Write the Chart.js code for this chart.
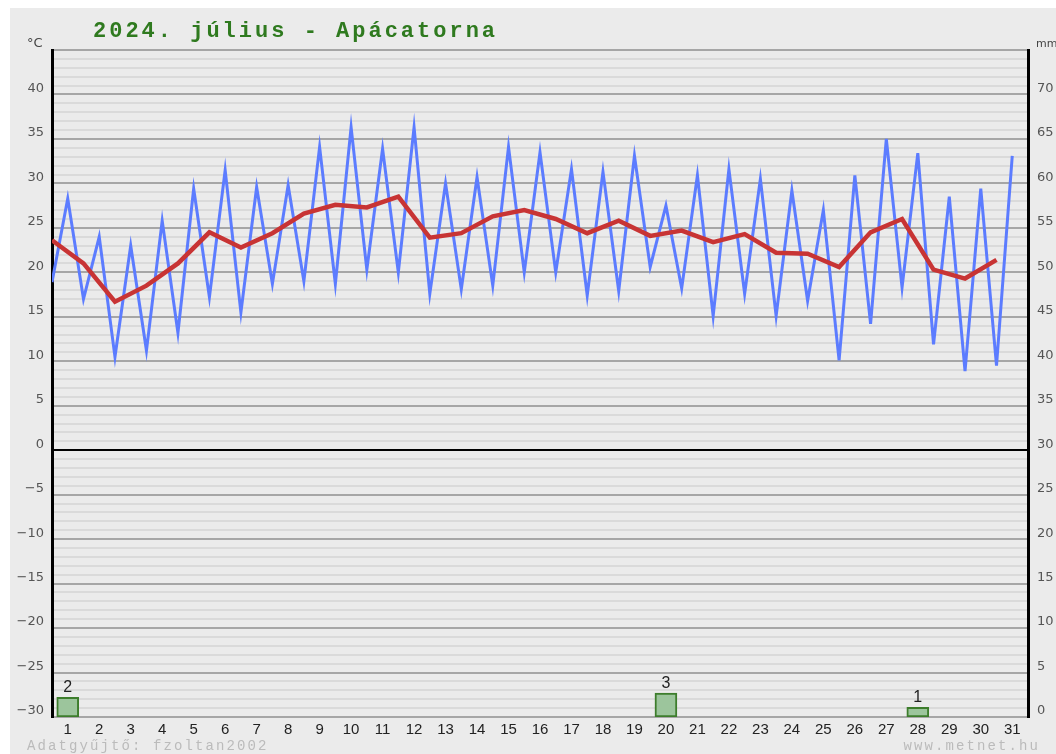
<!DOCTYPE html>
<html>
<head>
<meta charset="utf-8">
<script src="https://cdn.jsdelivr.net/npm/chart.js@4"></script>
<style>
    html, body { margin: 0; padding: 0; background: #fff; }
    #wrap { width: 1056px; height: 754px; }
</style>
</head>
<body>
<div id="wrap"><canvas id="chart1" width="1056" height="754"></canvas></div>
<script>
// days of the month
let days = [1, 2, 3, 4, 5, 6, 7, 8, 9, 10, 11, 12, 13, 14, 15, 16, 17, 18, 19, 20, 21, 22, 23, 24, 25, 26, 27, 28, 29, 30, 31];
// daily min / max / mean temperature (°C)
let tMin = [18.9, 17.0, 10.5, 11.2, 13.2, 17.2, 15.5, 18.7, 19.0, 18.7, 20.3, 20.0, 17.6, 18.1, 18.5, 20.0, 20.0, 17.4, 17.9, 20.6, 18.2, 15.1, 17.6, 15.1, 16.8, 10.1, 14.2, 18.3, 11.9, 8.9, 9.5];
let tMax = [28.3, 24.0, 23.0, 25.8, 29.4, 31.5, 29.6, 29.8, 34.1, 36.3, 33.9, 36.3, 30.0, 30.7, 34.1, 33.5, 31.6, 31.3, 33.1, 27.5, 30.9, 31.6, 30.5, 29.2, 27.0, 30.9, 35.0, 33.4, 28.5, 29.4, 33.1];
let tMean = [23.6, 21.0, 16.7, 18.5, 21.0, 24.5, 22.8, 24.4, 26.6, 27.6, 27.3, 28.5, 23.9, 24.4, 26.3, 27.0, 26.0, 24.4, 25.8, 24.1, 24.7, 23.4, 24.3, 22.2, 22.1, 20.6, 24.5, 26.0, 20.3, 19.3, 21.4];
// precipitation (mm)
let rainDays = [1, 20, 28];
let rainMm = [2.2, 2.7, 1.1];

// min at the start of the day, max at mid-day
let tempPoints = [];
days.forEach((d, i) => {
    tempPoints.push({ x: d - 0.5, y: tMin[i] });
    tempPoints.push({ x: d, y: tMax[i] });
});
let meanPoints = days.map((d, i) => ({ x: d - 0.5, y: tMean[i] }));
let rainPoints = rainDays.map((d, i) => ({ x: d, y: rainMm[i] }));

const texts = {
    id: 'texts',
    beforeDraw(chart) {
        const c = chart.ctx;
        c.save();
        c.fillStyle = '#ebebeb';
        c.fillRect(10, 8, chart.width - 10, chart.height - 8);
        c.restore();
    },
    afterDraw(chart) {
        const c = chart.ctx;
        c.save();
        // title
        c.fillStyle = '#2f7a1f';
        c.font = 'bold 22px "Liberation Mono"';
        c.letterSpacing = '3px';
        c.textAlign = 'left';
        c.textBaseline = 'alphabetic';
        c.fillText('2024. július - Apácatorna', 93, 37);
        // units
        c.letterSpacing = '0px';
        c.fillStyle = '#444';
        c.font = '13px "DejaVu Sans"';
        c.fillText('°C', 27, 47);
        c.font = '11px "DejaVu Sans"';
        c.fillText('mm', 1036, 47);
        // footer
        c.fillStyle = '#bbbbbb';
        c.font = '14px "Liberation Mono"';
        c.letterSpacing = '2.1px';
        c.fillText('Adatgyűjtő: fzoltan2002', 27, 750);
        c.textAlign = 'right';
        c.fillText('www.metnet.hu', 1040, 750);
        // rain labels
        c.letterSpacing = '0px';
        c.textAlign = 'center';
        c.fillStyle = '#222';
        c.font = '16px "Liberation Sans"';
        const meta = chart.getDatasetMeta(2);
        meta.data.forEach((bar, i) => {
            c.fillText(String(Math.round(rainMm[i])), bar.x, bar.y - 5);
        });
        c.restore();
    }
};

new Chart(document.getElementById('chart1'), {
    type: 'line',
    data: {
        datasets: [
            {
                label: 'Középhőmérséklet',
                data: meanPoints,
                borderColor: '#c83434',
                borderWidth: 4.5,
                pointRadius: 0,
                tension: 0,
                yAxisID: 'y',
                order: 0
            },
            {
                label: 'Hőmérséklet',
                data: tempPoints,
                borderColor: '#5c7cff',
                borderWidth: 3,
                pointRadius: 0,
                tension: 0,
                yAxisID: 'y',
                order: 1
            },
            {
                type: 'bar',
                label: 'Csapadék',
                data: rainPoints,
                backgroundColor: '#9cc59c',
                borderColor: '#3d7d2c',
                borderWidth: 2,
                borderSkipped: false,
                barThickness: 22,
                yAxisID: 'y2',
                order: 2
            }
        ]
    },
    options: {
        responsive: false,
        animation: false,
        layout: { padding: { top: 50, left: 0, right: 0, bottom: 0 } },
        scales: {
            x: {
                type: 'linear',
                min: 0.5,
                max: 31.5,
                offset: false,
                afterBuildTicks: s => { s.ticks = days.map(v => ({ value: v })); },
                afterFit: s => { s.height = 37; },
                grid: { display: false },
                border: { display: false },
                ticks: {
                    autoSkip: false,
                    maxRotation: 0,
                    padding: -4,
                    color: '#222',
                    font: { family: 'Liberation Sans', size: 15 }
                }
            },
            y: {
                position: 'left',
                min: -30,
                max: 45,
                afterFit: s => { s.width = 52; },
                border: { color: '#000', width: 3 },
                grid: {
                    drawTicks: false,
                    lineWidth: 2,
                    color: ctx => ctx.tick.value === 0 ? '#000' : (ctx.tick.value % 5 === 0 ? '#a6a6a6' : '#dadada')
                },
                ticks: {
                    stepSize: 1,
                    autoSkip: false,
                    padding: 8,
                    labelOffset: -6,
                    color: '#555',
                    font: { family: 'DejaVu Sans', size: 13 },
                    callback: v => (v % 5 === 0 && v !== 45) ? String(v).replace('-', '\u2212') : ''
                }
            },
            y2: {
                position: 'right',
                min: 0,
                max: 75,
                afterFit: s => { s.width = 28; },
                border: { color: '#000', width: 3 },
                grid: { display: false, drawTicks: false },
                ticks: {
                    stepSize: 5,
                    autoSkip: false,
                    padding: 9,
                    labelOffset: -6,
                    color: '#555',
                    font: { family: 'DejaVu Sans', size: 13 },
                    callback: v => v !== 75 ? v : ''
                }
            }
        },
        plugins: {
            legend: { display: false },
            tooltip: { enabled: false }
        }
    },
    plugins: [texts]
});
</script>
</body>
</html>
